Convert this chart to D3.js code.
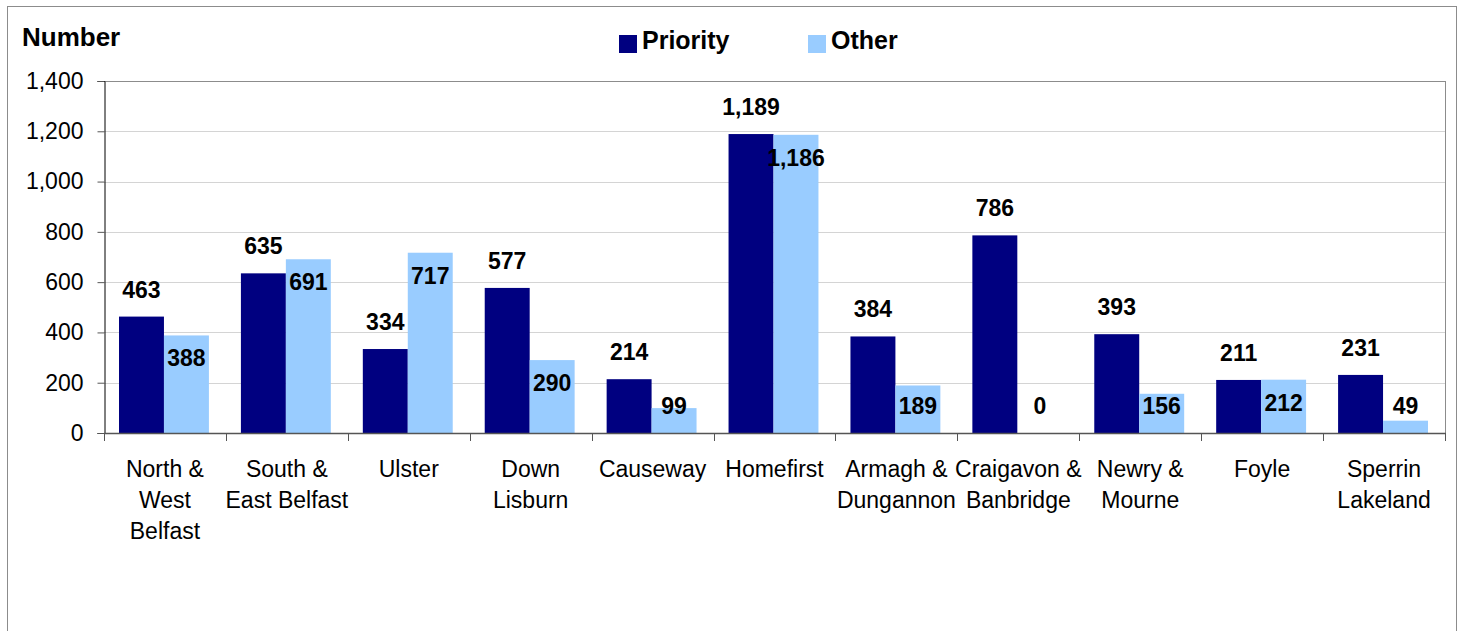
<!DOCTYPE html>
<html>
<head>
<meta charset="utf-8">
<script src="https://cdn.jsdelivr.net/npm/d3@7"></script>
<style>
  body { margin: 0; background: #fff; }
  text { font-family: "Liberation Sans", Arial, sans-serif; }
</style>
</head>
<body>
<div id="canvas"></div>
<script>
"use strict"

// the data
let categories = [
    ["North &", "West", "Belfast"],
    ["South &", "East Belfast"],
    ["Ulster"],
    ["Down", "Lisburn"],
    ["Causeway"],
    ["Homefirst"],
    ["Armagh &", "Dungannon"],
    ["Craigavon &", "Banbridge"],
    ["Newry &", "Mourne"],
    ["Foyle"],
    ["Sperrin", "Lakeland"]
];
let priorityValues = [463, 635, 334, 577, 214, 1189, 384, 786, 393, 211, 231];
let otherValues = [388, 691, 717, 290, 99, 1186, 189, 0, 156, 212, 49];
let seriesNames = ["Priority", "Other"];
let yTicks = [0, 200, 400, 600, 800, 1000, 1200, 1400];

let priorityColour = "#000080";
let otherColour = "#99ccff";

let plotLeft = 104;
let plotRight = 1445;
let plotTop = 81;
let plotBottom = 433;

let drawing = d3.select("#canvas")
    .append("svg")
    .attr("width", 1461)
    .attr("height", 631);

// outer frame of the chart
drawing.append("rect")
    .attr("x", 7.5)
    .attr("y", 6.5)
    .attr("width", 1449)
    .attr("height", 640)
    .attr("fill", "none")
    .attr("stroke", "#8c8c8c")
    .attr("stroke-width", 1);

let x = d3.scaleBand()
    .domain(d3.range(categories.length))
    .range([plotLeft, plotRight]);

let y = d3.scaleLinear()
    .domain([0, 1400])
    .range([plotBottom, plotTop]);

// bars inside each band: 15px gap then two bars of 45px
let inner = d3.scaleBand()
    .domain([0, 1])
    .range([15, x.bandwidth() - 17]);

// gridlines
drawing.append("g")
    .selectAll("line")
    .data(yTicks.slice(1))
    .join("line")
    .attr("x1", plotLeft)
    .attr("x2", plotRight)
    .attr("y1", d => Math.round(y(d)) + 0.5)
    .attr("y2", d => Math.round(y(d)) + 0.5)
    .attr("stroke", d => d === 1400 ? "#8c8c8c" : "#d4d4d4")
    .attr("stroke-width", 1);

// right border of plot area
drawing.append("line")
    .attr("x1", plotRight + 0.5)
    .attr("x2", plotRight + 0.5)
    .attr("y1", plotTop)
    .attr("y2", plotBottom)
    .attr("stroke", "#8c8c8c");

// bars
let groups = drawing.append("g")
    .selectAll("g")
    .data(categories)
    .join("g")
    .attr("transform", (d, i) => `translate(${x(i)},0)`);

groups.append("rect")
    .attr("x", inner(0))
    .attr("y", (d, i) => y(priorityValues[i]))
    .attr("width", inner.bandwidth())
    .attr("height", (d, i) => y(0) - y(priorityValues[i]))
    .attr("fill", priorityColour);

groups.append("rect")
    .attr("x", inner(1))
    .attr("y", (d, i) => y(otherValues[i]))
    .attr("width", inner.bandwidth())
    .attr("height", (d, i) => y(0) - y(otherValues[i]))
    .attr("fill", otherColour);

// y axis
let yAxis = drawing.append("g")
    .attr("transform", `translate(${plotLeft + 0.5},0)`)
    .call(d3.axisLeft(y).tickValues(yTicks).tickSize(7).tickPadding(14)
        .tickFormat(d3.format(",")));
yAxis.select(".domain").attr("stroke", "#000");
yAxis.selectAll(".tick line").attr("stroke", "#555");
yAxis.selectAll("text")
    .attr("font-size", 23)
    .attr("fill", "#000")
    .style("font-family", "Liberation Sans, Arial, sans-serif");

// x axis with ticks at category edges
let edges = d3.range(categories.length + 1).map(i => plotLeft + i * x.step());
drawing.append("line")
    .attr("x1", plotLeft)
    .attr("x2", plotRight + 1)
    .attr("y1", plotBottom + 0.5)
    .attr("y2", plotBottom + 0.5)
    .attr("stroke", "#555")
    .attr("stroke-width", 1.5);
drawing.append("g")
    .selectAll("line")
    .data(edges)
    .join("line")
    .attr("x1", d => Math.round(d) + 0.5)
    .attr("x2", d => Math.round(d) + 0.5)
    .attr("y1", plotBottom)
    .attr("y2", plotBottom + 8)
    .attr("stroke", "#555");

// category labels
groups.append("text")
    .attr("text-anchor", "middle")
    .attr("font-size", 23)
    .attr("fill", "#000")
    .selectAll("tspan")
    .data(d => d)
    .join("tspan")
    .attr("x", x.bandwidth() / 2)
    .attr("y", (d, i) => 477 + i * 31)
    .text(d => d);

// value labels
groups.append("text")
    .attr("x", inner(0) + inner.bandwidth() / 2)
    .attr("y", (d, i) => y(priorityValues[i]) - 19)
    .attr("text-anchor", "middle")
    .attr("font-size", 23)
    .attr("font-weight", "bold")
    .text((d, i) => d3.format(",")(priorityValues[i]));

groups.append("text")
    .attr("x", inner(1) + inner.bandwidth() / 2)
    .attr("y", (d, i) => Math.min(y(otherValues[i]) + 31, y(0) - 19))
    .attr("text-anchor", "middle")
    .attr("font-size", 23)
    .attr("font-weight", "bold")
    .text((d, i) => d3.format(",")(otherValues[i]));

// axis title
drawing.append("text")
    .attr("x", 22)
    .attr("y", 46)
    .attr("font-size", 26)
    .attr("font-weight", "bold")
    .text("Number");

// legend
let legendX = [619, 808];
let legend = drawing.append("g")
    .selectAll("g")
    .data(seriesNames)
    .join("g")
    .attr("transform", (d, i) => `translate(${legendX[i]},0)`);
legend.append("rect")
    .attr("x", 0)
    .attr("y", 35)
    .attr("width", 18)
    .attr("height", 18)
    .attr("fill", (d, i) => i === 0 ? priorityColour : otherColour);
legend.append("text")
    .attr("x", 23)
    .attr("y", 49)
    .attr("font-size", 25)
    .attr("font-weight", "bold")
    .text(d => d);
</script>
</body>
</html>
